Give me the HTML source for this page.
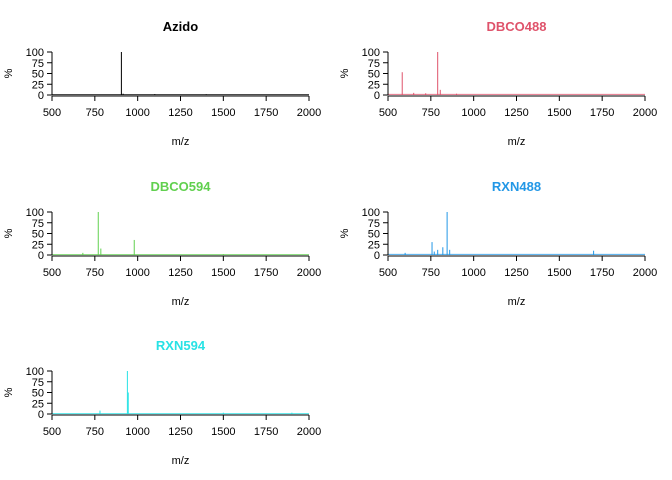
<!DOCTYPE html>
<html><head><meta charset="utf-8"><style>body{margin:0;background:#fff}svg{display:block;font-family:"Liberation Sans",Arial,sans-serif}</style></head>
<body>
<svg id="c" width="672" height="480"></svg>
<script>
const panelNames = ["Azido","DBCO488","DBCO594","RXN488","RXN594"];
const panelColors = ["#000000","#DF536B","#61D04F","#2297E6","#28E2E5"];
const xTicks = [500,750,1000,1250,1500,1750,2000];
const yTicks = [0,25,50,75,100];
const peaksMz = [
  [905,915,1100,1400],
  [583,790,805,650,720,900],
  [680,770,785,980,1500],
  [600,757,770,790,820,845,860,1700],
  [780,940,945,1500,1900]
];
const peaksInt = [
  [100,3,2,1.5],
  [53,100,12,5,4,3],
  [5,100,15,35,2],
  [5,30,8,12,18,100,12,10],
  [8,100,50,3,3]
];
const baseline = [2,3,2,3,2];
const NS="http://www.w3.org/2000/svg";
const svg=document.getElementById('c');
function mk(t,a,p){const e=document.createElementNS(NS,t);for(const k in a)e.setAttribute(k,a[k]);(p||svg).appendChild(e);return e;}
const pos=[[52,309,0],[388,645,0],[52,309,160],[388,645,160],[52,309,319]];
panelNames.forEach((name,i)=>{
  const [x0,x1,dy]=pos[i];
  const yb=95+dy, yt=52+dy;
  const X=v=>x0+(v-500)/1500*(x1-x0);
  const Y=v=>yb-(v/100)*(yb-yt);
  const g=mk('g',{});
  
  
  const col=panelColors[i];
  const t=mk('text',{x:(x0+x1)/2,y:31+dy,'text-anchor':'middle','font-size':13,'font-weight':'bold',fill:col},g);t.textContent=name;
  
  const bl=mk('line',{x1:X(500),x2:X(2000),y1:Y(baseline[i]*0.5),y2:Y(baseline[i]*0.5),stroke:col,'stroke-width':1,'stroke-opacity':0.8},g);
  
  peaksMz[i].forEach((m,j)=>{
    const l=mk('line',{x1:X(m),x2:X(m),y1:yb,y2:Y(peaksInt[i][j]),stroke:col,'stroke-width':1},g);
    
  });
  const xa=mk('line',{x1:X(500),x2:X(2000),y1:yb+1,y2:yb+1,stroke:'#000'},g);
  
  xTicks.forEach(v=>{
    mk('line',{x1:X(v),x2:X(v),y1:yb+1,y2:yb+6,stroke:'#000'},g);
    const tx=mk('text',{x:X(v),y:yb+21,'text-anchor':'middle','font-size':11},g);tx.textContent=v;
    
  });
  const ya=mk('line',{x1:x0,x2:x0,y1:Y(0),y2:Y(100),stroke:'#000'},g);
  
  yTicks.forEach(v=>{
    mk('line',{x1:x0-5,x2:x0,y1:Y(v),y2:Y(v),stroke:'#000'},g);
    const ty=mk('text',{x:x0-8,y:Y(v)+4,'text-anchor':'end','font-size':11},g);ty.textContent=v;
    
  });
  const xl=mk('text',{x:(x0+x1)/2,y:145+dy,'text-anchor':'middle','font-size':11},g);xl.textContent='m/z';
  
  const yl=mk('text',{x:0,y:0,'text-anchor':'middle','font-size':11,transform:`translate(${x0-40},${(yb+yt)/2}) rotate(-90)`},g);yl.textContent='%';
  
});
</script>
</body></html>
